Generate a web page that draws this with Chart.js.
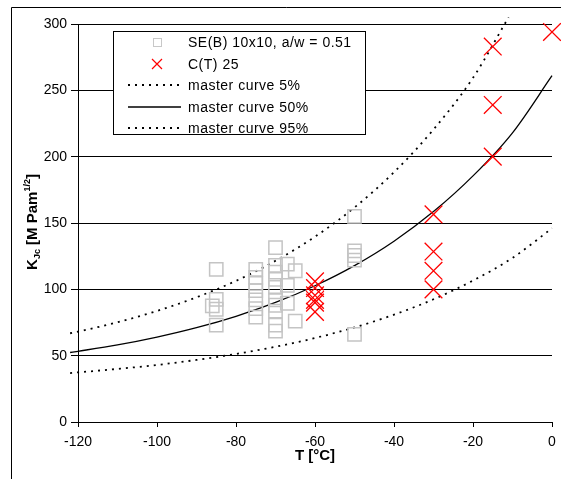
<!DOCTYPE html>
<html><head><meta charset="utf-8">
<script src="https://cdn.jsdelivr.net/npm/chart.js@4"></script>
<style>html,body{margin:0;padding:0;background:#fff;}#wrap{width:561px;height:479px;position:relative;}</style>
</head><body><div id="wrap"><canvas id="c" width="561" height="479"></canvas></div>
<script>
// ---- data ----
const sebT = [-85,-85,-85,-85,-86, -75,-75,-75,-75,-75,-75,-75, -70,-70,-70,-70,-70,-70,-70,-70,-70,-70, -67,-67,-67, -65,-65, -50,-50,-50,-50,-50];
const sebK = [115,92.5,85,73,87.5, 115,109,104.5,99,92,85.5,79, 131.5,118,113,107.5,101.5,92,88,83.5,73,68.5, 119,103,89.5, 114,76, 155,129,125.5,122,66];
const ctT = [-60,-60,-60,-60,-60,-60, -30,-30,-30,-30, -15,-15,-15, 0];
const ctK = [106,101,95.5,92,90,83, 156.5,128.5,114,100, 283,239,200, 294];
const curveT = [-122,-120,-110,-100,-90,-80,-70,-60,-50,-40,-30,-20,-10,0];
const mc5  = [36.9,37.4,40.0,43.0,46.8,51.3,56.7,63.3,71.3,80.9,92.5,106.6,123.7,146];
const mc50 = [52.4,53.3,58.1,64.0,71.1,79.7,90.1,102.7,117.9,136.3,158.6,185.5,218,261];
const curve95T = [-122,-120,-110,-100,-90,-80,-70,-60,-50,-40,-30,-20,-11];
const mc95 = [66.9,68.1,75.2,83.7,94.0,106.4,121.5,139.7,161.7,188.3,220.5,259.4,305];
const xTicks = [-120,-100,-80,-60,-40,-20,0];
const yTicks = [0,50,100,150,200,250,300];
const seriesLabels = ['SE(B) 10x10, a/w = 0.51','C(T) 25','master curve 5%','master curve 50%','master curve 95%'];
const xTitle = 'T [°C]';
const yTitleParts = ['K','Jc',' [M Pam','1/2',']'];

const pts = (xs, ys) => xs.map((x, i) => ({x, y: ys[i]}));
const FONT = 'Liberation Sans, Arial, sans-serif';

const framePlugin = {
  id: 'frame',
  beforeDraw(chart) {
    const ctx = chart.ctx;
    ctx.save();
    ctx.fillStyle = '#fff';
    ctx.fillRect(0, 0, chart.width, chart.height);
    ctx.strokeStyle = '#000';
    ctx.lineWidth = 1;
    ctx.beginPath();
    ctx.moveTo(11.5, 479);
    ctx.lineTo(11.5, 7.5);
    ctx.lineTo(561, 7.5);
    ctx.stroke();
    ctx.restore();
  }
};

const titlesPlugin = {
  id: 'titles',
  afterDraw(chart) {
    const ctx = chart.ctx;
    const ca = chart.chartArea;
    ctx.save();
    ctx.fillStyle = '#000';
    ctx.font = 'bold 15px ' + FONT;
    ctx.textAlign = 'center';
    ctx.textBaseline = 'alphabetic';
    ctx.fillText(xTitle, (ca.left + ca.right) / 2, 460);
    const big = 'bold 15px ' + FONT, small = 'bold 9px ' + FONT;
    const styles = [[big,0],[small,3],[big,0],[small,-7],[big,0]];
    let total = 0;
    const widths = yTitleParts.map((t, i) => { ctx.font = styles[i][0]; const w = ctx.measureText(t).width; total += w; return w; });
    ctx.translate(37, 222);
    ctx.rotate(-Math.PI / 2);
    ctx.textAlign = 'left';
    let x = -total / 2;
    yTitleParts.forEach((t, i) => {
      ctx.font = styles[i][0];
      ctx.fillText(t, x, styles[i][1]);
      x += widths[i];
    });
    ctx.restore();
  }
};

const legendPlugin = {
  id: 'boxLegend',
  afterDraw(chart) {
    const ctx = chart.ctx;
    ctx.save();
    ctx.fillStyle = '#fff';
    ctx.fillRect(113.5, 31.5, 252, 103);
    ctx.strokeStyle = '#000';
    ctx.lineWidth = 1;
    ctx.strokeRect(113.5, 31.5, 252, 103);
    const rows = [42, 64, 85, 107, 128];
    chart.data.datasets.forEach((ds, i) => {
      const y = rows[i];
      ctx.save();
      if (i === 0) {
        ctx.strokeStyle = '#c8c8c8'; ctx.lineWidth = 1;
        ctx.strokeRect(153.5, y - 3.5, 8, 8);
      } else if (i === 1) {
        ctx.strokeStyle = '#ff0000'; ctx.lineWidth = 1.2;
        ctx.beginPath();
        ctx.moveTo(152, y - 5); ctx.lineTo(162, y + 5);
        ctx.moveTo(162, y - 5); ctx.lineTo(152, y + 5);
        ctx.stroke();
      } else {
        ctx.strokeStyle = ds.borderColor; ctx.lineWidth = ds.borderWidth;
        ctx.setLineDash(ds.borderDash || []);
        ctx.beginPath();
        ctx.moveTo(128, y); ctx.lineTo(181, y);
        ctx.stroke();
      }
      ctx.restore();
      ctx.save();
      ctx.fillStyle = '#000';
      ctx.font = '14px ' + FONT;
      ctx.letterSpacing = '0.5px';
      ctx.textAlign = 'left';
      ctx.textBaseline = 'middle';
      ctx.fillText(ds.label, 188, y + 1);
      ctx.restore();
    });
    ctx.restore();
  }
};

new Chart(document.getElementById('c'), {
  type: 'scatter',
  data: {
    datasets: [
      { label: seriesLabels[0], data: pts(sebT, sebK), pointStyle: 'rect', pointRadius: 9.4,
        borderColor: '#c4c4c4', backgroundColor: 'rgba(0,0,0,0)', borderWidth: 1.5, showLine: false },
      { label: seriesLabels[1], data: pts(ctT, ctK), pointStyle: 'crossRot', pointRadius: 12.5,
        borderColor: '#ff0000', backgroundColor: '#ff0000', borderWidth: 1.3, showLine: false, clip: false },
      { label: seriesLabels[2], data: pts(curveT, mc5), showLine: true, pointRadius: 0, borderColor: '#000',
        borderWidth: 1.8, borderDash: [2, 5], cubicInterpolationMode: 'monotone', clip: false },
      { label: seriesLabels[3], data: pts(curveT, mc50), showLine: true, pointRadius: 0, borderColor: '#000',
        borderWidth: 1.3, cubicInterpolationMode: 'monotone', clip: false },
      { label: seriesLabels[4], data: pts(curve95T, mc95), showLine: true, pointRadius: 0, borderColor: '#000',
        borderWidth: 1.8, borderDash: [2, 5], cubicInterpolationMode: 'monotone', clip: false }
    ]
  },
  options: {
    responsive: false,
    animation: false,
    devicePixelRatio: 1,
    layout: { autoPadding: false, padding: { left: 0, right: 9, top: 24, bottom: 0 } },
    plugins: { legend: { display: false }, tooltip: { enabled: false } },
    scales: {
      x: {
        type: 'linear', min: -120, max: 0,
        afterBuildTicks: s => { s.ticks = xTicks.map(v => ({value: v})); },
        afterFit: s => { s.height = 57; s.paddingLeft = 0; s.paddingRight = 0; },
        ticks: { color: '#000', font: { family: FONT, size: 14 }, padding: 7, maxRotation: 0 },
        grid: { drawOnChartArea: false, drawTicks: true, tickLength: 5, color: '#000' },
        border: { color: '#000', width: 1 }
      },
      y: {
        min: 0, max: 300,
        afterBuildTicks: s => { s.ticks = yTicks.map(v => ({value: v})); },
        afterFit: s => { s.width = 78; s.paddingTop = 0; s.paddingBottom = 0; },
        ticks: { color: '#000', font: { family: FONT, size: 14 }, padding: 4 },
        grid: { drawOnChartArea: true, drawTicks: true, tickLength: 7, color: '#000' },
        border: { color: '#000', width: 1 }
      }
    }
  },
  plugins: [framePlugin, legendPlugin, titlesPlugin]
});
</script></body></html>
